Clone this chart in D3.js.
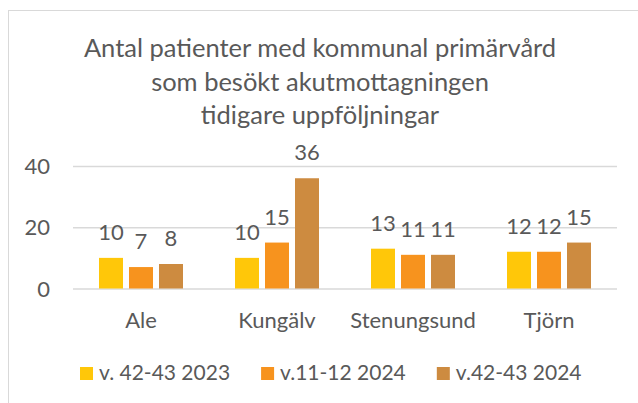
<!DOCTYPE html>
<html>
<head>
<meta charset="utf-8">
<script src="https://cdn.jsdelivr.net/npm/d3@7"></script>
<style>
  body { margin: 0; background: #fff; }
  text { font-family: Lato, 'Open Sans', sans-serif; fill: #595959; }
</style>
</head>
<body>
<div id="graf"></div>
<script>
// !DATOS
const kommuner = ['Ale', 'Kungälv', 'Stenungsund', 'Tjörn']
const serier = ['v. 42-43 2023', 'v.11-12 2024', 'v.42-43 2024']
const v2023_42 = [10, 10, 13, 12]
const v2024_11 = [7, 15, 11, 12]
const v2024_42 = [8, 36, 11, 15]
const yTicks = [0, 20, 40]
const titulo = [
  'Antal patienter med kommunal primärvård',
  'som besökt akutmottagningen',
  'tidigare uppföljningar',
]
const colores = ['#FFC709', '#F7931E', '#CD8B40']

const valores = [v2023_42, v2024_11, v2024_42]
const datos = kommuner.map((k, i) => ({
  kommun: k,
  vals: serier.map((s, j) => ({ serie: s, valor: valores[j][i] })),
}))

const anchoTotal = 638
const altoTotal = 403

const svg = d3
  .select('#graf')
  .append('svg')
  .attr('width', anchoTotal)
  .attr('height', altoTotal)

// marco del area del grafico
svg
  .append('rect')
  .attr('x', 8.5)
  .attr('y', 10.5)
  .attr('width', 700)
  .attr('height', 500)
  .attr('fill', '#fff')
  .attr('stroke', '#d9d9d9')

const margin = { left: 73, right: 21, top: 166, bottom: 114.5 }
const ancho = anchoTotal - margin.left - margin.right
const alto = altoTotal - margin.top - margin.bottom

const g = svg
  .append('g')
  .attr('transform', `translate(${margin.left}, ${margin.top})`)

// !ESCALADORES
const x = d3.scaleBand().domain(kommuner).range([0, ancho])
const grupo = 84
const x1 = d3.scaleBand().domain(serier).range([0, grupo]).paddingInner(0.2)
const y = d3.scaleLinear().domain([0, 40]).range([alto, 0])
const color = d3.scaleOrdinal().domain(serier).range(colores)

// grid
g.append('g')
  .call(d3.axisLeft(y).tickValues(yTicks).tickSize(-ancho).tickFormat(''))
  .call((a) => a.select('.domain').remove())
  .selectAll('line')
  .attr('stroke', '#d9d9d9')
  .attr('stroke-width', 1.5)

// etiquetas eje y
g.selectAll('.ytick')
  .data(yTicks)
  .enter()
  .append('text')
  .attr('class', 'ytick')
  .attr('x', -23)
  .attr('y', (d) => y(d) + 8)
  .attr('text-anchor', 'end')
  .style('font-size', '22px')
  .text((d) => d)

// barras
const grupos = g
  .selectAll('.grupo')
  .data(datos)
  .enter()
  .append('g')
  .attr('class', 'grupo')
  .attr(
    'transform',
    (d) => `translate(${x(d.kommun) + (x.bandwidth() - grupo) / 2}, 0)`
  )

grupos
  .selectAll('rect')
  .data((d) => d.vals)
  .enter()
  .append('rect')
  .attr('x', (d) => x1(d.serie))
  .attr('y', (d) => y(d.valor))
  .attr('width', x1.bandwidth())
  .attr('height', (d) => y(0) - y(d.valor))
  .attr('fill', (d) => color(d.serie))

grupos
  .selectAll('.valor')
  .data((d) => d.vals)
  .enter()
  .append('text')
  .attr('class', 'valor')
  .attr('x', (d) => x1(d.serie) + x1.bandwidth() / 2)
  .attr('y', (d) => y(d.valor) - 18)
  .attr('text-anchor', 'middle')
  .style('font-size', '22px')
  .text((d) => d.valor)

// etiquetas eje x
g.selectAll('.xtick')
  .data(kommuner)
  .enter()
  .append('text')
  .attr('class', 'xtick')
  .attr('x', (d) => x(d) + x.bandwidth() / 2)
  .attr('y', alto + 39)
  .attr('text-anchor', 'middle')
  .style('font-size', '22px')
  .text((d) => d)

// titulo
svg
  .append('text')
  .attr('text-anchor', 'middle')
  .style('font-size', '25.5px')
  .selectAll('tspan')
  .data(titulo)
  .enter()
  .append('tspan')
  .attr('x', 320)
  .attr('y', (d, i) => 57 + i * 33.5)
  .text((d) => d)

// leyenda
const leyenda = svg.append('g')
let lx = 80
serier.forEach((s) => {
  const item = leyenda.append('g').attr('transform', `translate(${lx}, 0)`)
  item
    .append('rect')
    .attr('x', 0)
    .attr('y', 367)
    .attr('width', 13)
    .attr('height', 13)
    .attr('fill', color(s))
  const t = item
    .append('text')
    .attr('x', 19)
    .attr('y', 380)
    .style('font-size', '21px')
    .text(s)
  lx += 19 + t.node().getComputedTextLength() + 31
})
</script>
</body>
</html>
